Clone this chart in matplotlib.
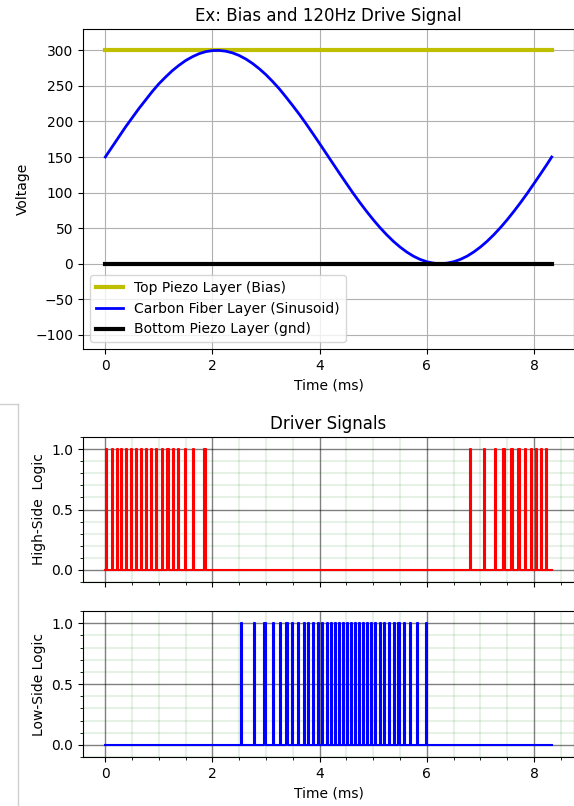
import matplotlib.pyplot as plt
from matplotlib.ticker import AutoMinorLocator
from matplotlib.lines import Line2D

# one 120 Hz period, in ms
t_end = 8.33

# drive signal
t_ms = [0, 0.125, 0.25, 0.375, 0.5, 0.625, 0.75, 0.875, 1.0, 1.125, 1.25,
        1.375, 1.5, 1.625, 1.75, 1.875, 2.0, 2.125, 2.25, 2.375, 2.5, 2.625,
        2.75, 2.875, 3.0, 3.125, 3.25, 3.375, 3.5, 3.625, 3.75, 3.875, 4.0,
        4.125, 4.25, 4.375, 4.5, 4.625, 4.75, 4.875, 5.0, 5.125, 5.25, 5.375,
        5.5, 5.625, 5.75, 5.875, 6.0, 6.125, 6.25, 6.375, 6.5, 6.625, 6.75,
        6.875, 7.0, 7.125, 7.25, 7.375, 7.5, 7.625, 7.75, 7.875, 8.0, 8.125,
        8.25, 8.33]
carbon_v = [150, 164, 178, 192, 205, 218, 230, 242, 253, 262.5, 271.4,
            279, 285.7, 291, 295.3, 298.2, 299.7, 299.9, 298.8, 296.4, 292.7, 287.7,
            281.4, 274, 265.6, 256, 245.6, 234, 222, 209.6, 196.4, 182.7, 168.8,
            154.7, 140.6, 126.5, 112.7, 99, 86, 73.6, 61.8, 50.8, 40.7, 31.5,
            23.4, 16.4, 10.5, 6, 2.7, 0.7, 0, 0.7, 2.7, 6, 10.5,
            16.4, 23.4, 31.5, 40.7, 50.8, 61.8, 73.6, 86, 99, 112.7, 126.5,
            140.6, 150]
t_flat = [0, t_end]
bias_v = [300, 300]
gnd_v = [0, 0]

# pulse times (ms)
high_pulses = [0.02, 0.12, 0.21, 0.30, 0.39, 0.48, 0.57, 0.67, 0.76, 0.85,
               0.95, 1.06, 1.16, 1.26, 1.36, 1.48, 1.63, 1.85,
               6.81, 7.06, 7.27, 7.43, 7.58, 7.71, 7.83, 7.94, 8.04, 8.13, 8.23]
low_pulses = [2.53, 2.78, 2.97, 3.12, 3.26, 3.38, 3.49, 3.60, 3.70, 3.79,
              3.88, 3.97, 4.05, 4.13, 4.21, 4.29, 4.36, 4.43, 4.51, 4.58,
              4.66, 4.73, 4.81, 4.88, 4.96, 5.04, 5.12, 5.20, 5.29, 5.38,
              5.47, 5.57, 5.68, 5.81, 5.99]


def pulse_line(starts, width=0.02):
    xs, ys = [0], [0]
    for s in starts:
        xs += [s, s, s + width, s + width]
        ys += [0, 1, 1, 0]
    xs.append(t_end)
    ys.append(0)
    return xs, ys


fig = plt.figure(figsize=(5.74, 8.06), dpi=100)

# --- top figure
ax = fig.add_axes([0.1446, 0.567, 0.8554, 0.397])
ax.plot(t_flat, bias_v, color='y', lw=3, label='Top Piezo Layer (Bias)')
ax.plot(t_ms, carbon_v, color='b', lw=2, label='Carbon Fiber Layer (Sinusoid)')
ax.plot(t_flat, gnd_v, color='k', lw=3, label='Bottom Piezo Layer (gnd)')
ax.set_ylim(-120, 330)
ax.set_title('Ex: Bias and 120Hz Drive Signal')
ax.set_xlabel('Time (ms)')
ax.set_ylabel('Voltage')
ax.grid(True)
ax.legend(loc='lower left')

# --- driver signals
ax1 = fig.add_axes([0.1446, 0.2779, 0.8554, 0.1799])
ax2 = fig.add_axes([0.1446, 0.0608, 0.8554, 0.1811], sharex=ax1)

x, y = pulse_line(high_pulses)
ax1.plot(x, y, color='r', lw=1.5)
x, y = pulse_line(low_pulses)
ax2.plot(x, y, color='b', lw=1.5)

for a in (ax1, ax2):
    a.set_ylim(-0.1, 1.1)
    a.set_yticks([0, 0.5, 1.0])
    a.xaxis.set_minor_locator(AutoMinorLocator(4))
    a.yaxis.set_minor_locator(AutoMinorLocator(5))
    a.grid(which='major', color='k', alpha=0.5, lw=1)
    a.grid(which='minor', color='g', alpha=0.1, lw=1.5)
ax1.tick_params(labelbottom=False)
ax1.set_title('Driver Signals')
ax1.set_ylabel('High-Side  Logic')
ax2.set_ylabel('Low-Side Logic')
ax2.set_xlabel('Time (ms)')

# notebook output frame
fig.add_artist(Line2D([0, 18 / 574], [1 - 404 / 806, 1 - 404 / 806], color='#cfcfcf', lw=1))
fig.add_artist(Line2D([18 / 574, 18 / 574], [0, 1 - 404 / 806], color='#cfcfcf', lw=1))

fig.savefig('out.png', dpi=100)
